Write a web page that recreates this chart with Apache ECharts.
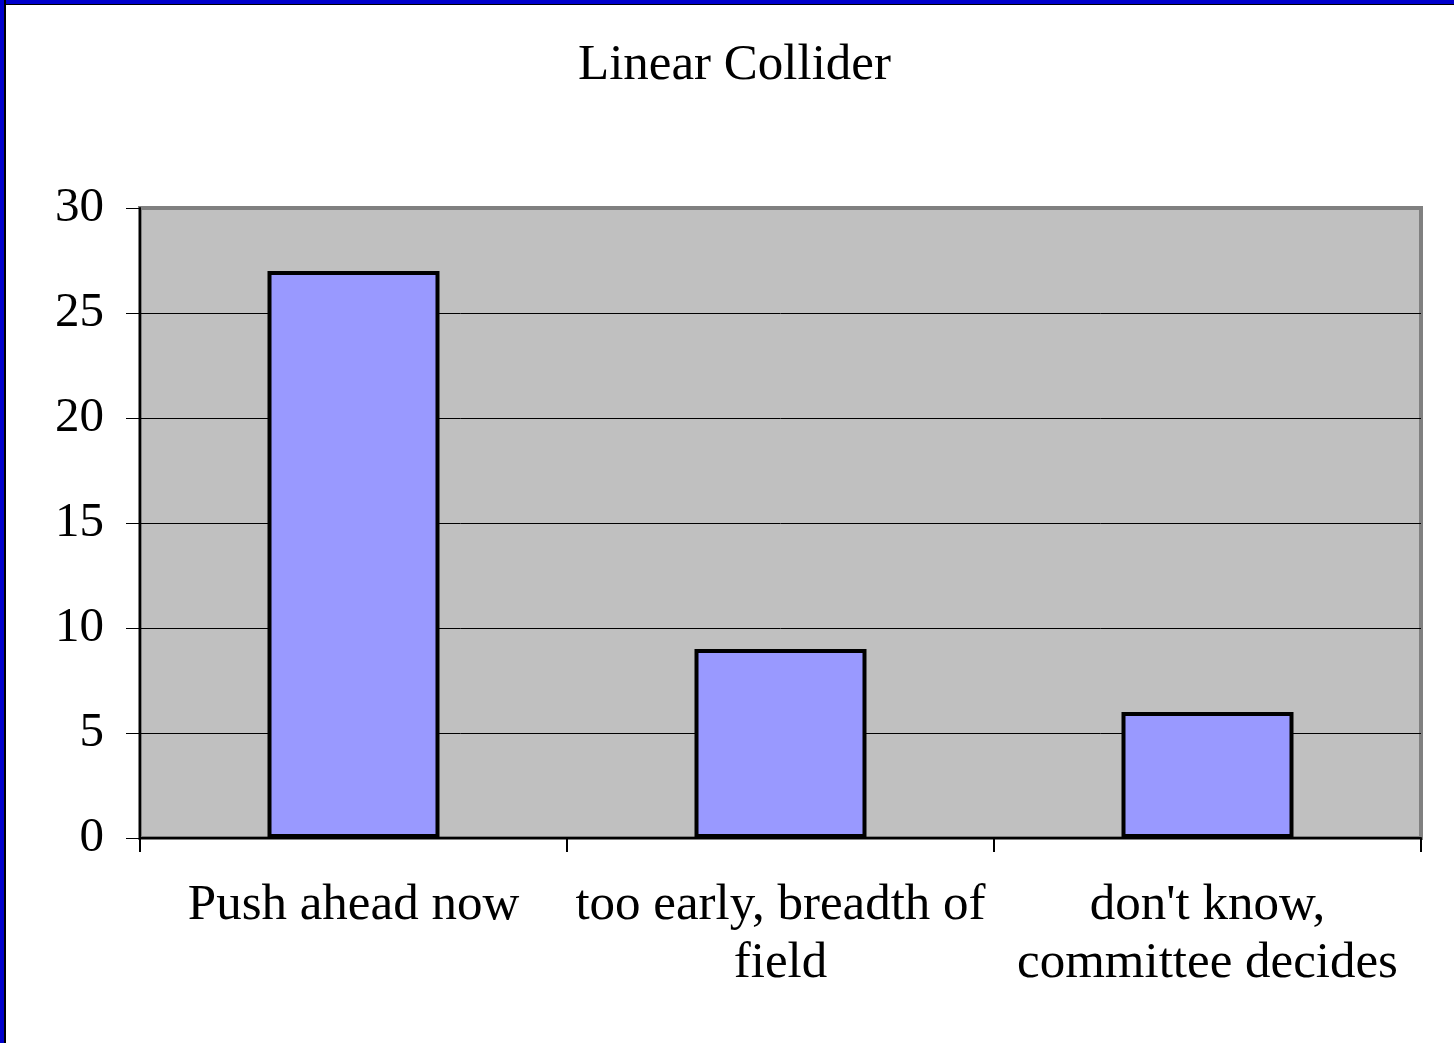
<!DOCTYPE html>
<html>
<head>
<meta charset="utf-8">
<script src="https://cdn.jsdelivr.net/npm/echarts@6/dist/echarts.min.js"></script>
<style>
  html, body { margin: 0; padding: 0; background: #fff; }
  #main { position: absolute; left: 0; top: 0; width: 1454px; height: 1043px; }
  /* blue frame on top and left, like the slide it came from */
  .frame-top { position: absolute; left: 0; top: 0; width: 1454px; height: 4px; background: #0000CC; border-bottom: 1px solid #000; }
  .frame-left { position: absolute; left: 0; top: 0; width: 4px; height: 1043px; background: #0000CC; border-right: 2px solid #000; }
</style>
</head>
<body>
<div id="main"></div>
<div class="frame-top"></div>
<div class="frame-left"></div>
<script>
var categories = ['Push ahead now', 'too early, breadth of\nfield', "don't know,\ncommittee decides"]
var votes = [27, 9, 6]
var yTicks = [0, 5, 10, 15, 20, 25, 30]

var chart = echarts.init(document.getElementById('main'))
chart.setOption({
  backgroundColor: '#fff',
  animation: false,
  title: {
    text: 'Linear Collider',
    left: 573,
    top: 35,
    textStyle: {
      fontFamily: 'Liberation Serif',
      fontSize: 51,
      fontWeight: 'normal',
      color: '#000'
    }
  },
  grid: {
    left: 140,
    top: 208,
    right: 33,
    bottom: 205,
    show: true,
    backgroundColor: '#C0C0C0',
    borderColor: '#808080',
    borderWidth: 4
  },
  xAxis: {
    type: 'category',
    data: categories,
    axisLine: { lineStyle: { color: '#000', width: 2 } },
    axisTick: { show: true, length: 14, lineStyle: { color: '#000', width: 2 } },
    axisLabel: {
      margin: 39,
      interval: 0,
      fontFamily: 'Liberation Serif',
      fontSize: 51,
      lineHeight: 58,
      color: '#000'
    }
  },
  yAxis: {
    type: 'value',
    min: yTicks[0],
    max: yTicks[yTicks.length - 1],
    interval: 5,
    axisLine: { show: true, lineStyle: { color: '#000', width: 2 } },
    axisTick: { show: true, length: 14, lineStyle: { color: '#000', width: 1 } },
    axisLabel: {
      margin: 36,
      fontFamily: 'Liberation Serif',
      fontSize: 49,
      color: '#000'
    },
    splitLine: {
      show: true,
      // last line (30) sits on the grey border, keep it grey
      lineStyle: { color: ['#000', '#000', '#000', '#000', '#000', '#000', '#808080'], width: 1 }
    }
  },
  series: [
    {
      name: 'votes',
      type: 'bar',
      data: votes,
      barWidth: 172,
      itemStyle: {
        color: '#9999FF',
        borderColor: '#000',
        borderWidth: 4
      }
    }
  ]
})
</script>
</body>
</html>
